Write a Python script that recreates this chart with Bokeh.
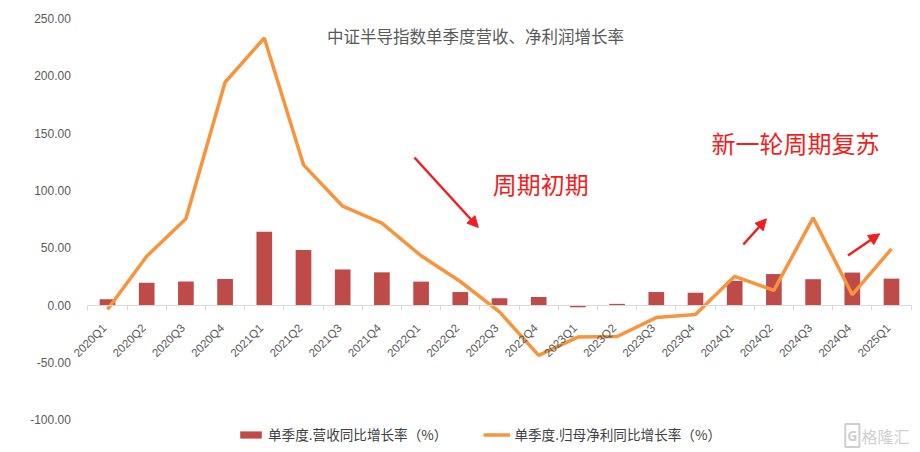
import math
from bokeh.plotting import figure
from bokeh.models import (Range1d, FixedTicker, Label, Arrow, NormalHead,
                          Legend, LegendItem, ColumnDataSource, NumeralTickFormatter)
from bokeh.embed import file_html
from bokeh.resources import INLINE

quarters = ["2020Q1", "2020Q2", "2020Q3", "2020Q4", "2021Q1", "2021Q2", "2021Q3", "2021Q4",
            "2022Q1", "2022Q2", "2022Q3", "2022Q4", "2023Q1", "2023Q2", "2023Q3", "2023Q4",
            "2024Q1", "2024Q2", "2024Q3", "2024Q4", "2025Q1"]
revenue_growth = [5.0, 19.5, 20.4, 22.7, 64.0, 48.0, 31.0, 28.5, 20.4, 11.3, 5.9, 7.0,
                  -2.0, 1.0, 11.3, 10.7, 21.0, 27.0, 22.5, 28.3, 23.0]
profit_growth = [-4.0, 42.5, 75.2, 194.4, 233.0, 122.3, 86.2, 71.4, 43.0, 20.5, -6.0, -44.0,
                 -28.0, -27.5, -11.0, -8.3, 25.0, 12.7, 76.0, 9.0, 49.0]
y_ticks = [-100, -50, 0, 50, 100, 150, 200, 250]

title_text = "中证半导指数单季度营收、净利润增长率"
bar_name = "单季度.营收同比增长率（%）"
line_name = "单季度.归母净利同比增长率（%）"
note1 = "周期初期"
note2 = "新一轮周期复苏"
watermark = "格隆汇"

# geometry
W, H = 912, 450
cat_px = 39.2          # pixels per quarter
first_px = 107.0       # pixel of the first quarter's centre
unit_px = 1.146        # pixels per percentage point
zero_px = 304.5        # pixel row of 0

n = len(quarters)
idx = list(range(n))
src = ColumnDataSource(dict(x=idx, q=quarters, rev=revenue_growth, prof=profit_growth))

p = figure(width=W, height=H,
           x_range=Range1d(-first_px / cat_px, (W - first_px) / cat_px),
           y_range=Range1d((zero_px - H) / unit_px, zero_px / unit_px),
           output_backend="svg", toolbar_location=None,
           min_border_left=0, min_border_right=0, min_border_top=0, min_border_bottom=0)
p.outline_line_color = None
p.xgrid.visible = False
p.ygrid.visible = False

bar_color = "#BE4B48"
line_color = "#F7943C"
gray = "#595959"

bars = p.vbar(x="x", top="rev", width=0.4, source=src, fill_color=bar_color, line_color=None)
line = p.line(x="x", y="prof", source=src, line_color=line_color, line_width=3.5)

# x axis: line at 0 with ticks between quarters
p.xaxis.fixed_location = 0
p.xaxis.bounds = (-0.5, n - 0.5)
p.xaxis.ticker = FixedTicker(ticks=idx, minor_ticks=[i - 0.5 for i in range(n + 1)])
p.xaxis.axis_line_color = "#D9D9D9"
p.xaxis.major_tick_line_color = None
p.xaxis.minor_tick_line_color = "#D9D9D9"
p.xaxis.minor_tick_out = 5
p.xaxis.minor_tick_in = 0
p.xaxis.major_label_text_color = None

# quarter labels, rotated
p.text(x="x", y=-21.0 / unit_px, text="q", source=src, angle=math.pi / 4,
       text_align="right", text_baseline="middle", x_offset=-3,
       text_font={"value": "Liberation Sans"}, text_font_size="11.5px", text_color=gray)

# y axis
p.yaxis.fixed_location = -0.5
p.yaxis.ticker = FixedTicker(ticks=y_ticks)
p.yaxis.formatter = NumeralTickFormatter(format="0.00")
p.yaxis.axis_line_color = None
p.yaxis.major_tick_line_color = None
p.yaxis.minor_tick_line_color = None
p.yaxis.major_label_text_font = "Liberation Sans"
p.yaxis.major_label_text_font_size = "12px"
p.yaxis.major_label_text_color = gray
p.yaxis.major_label_standoff = 11

# title
p.add_layout(Label(x=9.39, y=234.3, text=title_text, text_align="center", text_baseline="middle",
                   text_font="Noto Sans CJK SC", text_font_size="16.5px", text_color=gray))

# annotations
red = "#F01E1E"
p.add_layout(Label(x=11.05, y=106, text=note1, text_align="center", text_baseline="middle",
                   text_font="Noto Sans CJK SC", text_font_size="24px", text_color=red))
p.add_layout(Label(x=17.55, y=141.8, text=note2, text_align="center", text_baseline="middle",
                   text_font="Noto Sans CJK SC", text_font_size="24px", text_color=red))

for xs, ys, xe, ye in [(7.83, 128.7, 9.46, 67.6), (16.22, 52.8, 16.81, 75.2), (18.89, 43.2, 19.70, 62.1)]:
    p.add_layout(Arrow(end=NormalHead(size=11, fill_color=red, line_color=red),
                       x_start=xs, y_start=ys, x_end=xe, y_end=ye,
                       line_color=red, line_width=2.5))

# watermark
wm = "#CFCFCF"
p.add_layout(Label(x=19.85, y=-113.9, text=watermark, text_align="center", text_baseline="middle",
                   text_font="Noto Sans CJK SC", text_font_size="16px", text_color=wm))
p.add_layout(Label(x=19.0, y=-113.9, text="G", text_align="center", text_baseline="middle",
                   text_font="Noto Sans", text_font_size="14px", text_font_style="bold",
                   text_color=wm, border_line_color=wm, border_line_width=2, padding=2))

legend = Legend(items=[LegendItem(label=bar_name, renderers=[bars]),
                       LegendItem(label=line_name, renderers=[line])],
                location=(237, 6), orientation="horizontal", border_line_color=None,
                background_fill_alpha=0, padding=0, margin=0, spacing=36,
                glyph_width=27, glyph_height=9, label_height=14, label_standoff=4,
                label_text_font="Noto Sans CJK SC", label_text_font_size="13.6px",
                label_text_color="#404040")
p.add_layout(legend)

open("out.html", "w").write(file_html(p, INLINE))
